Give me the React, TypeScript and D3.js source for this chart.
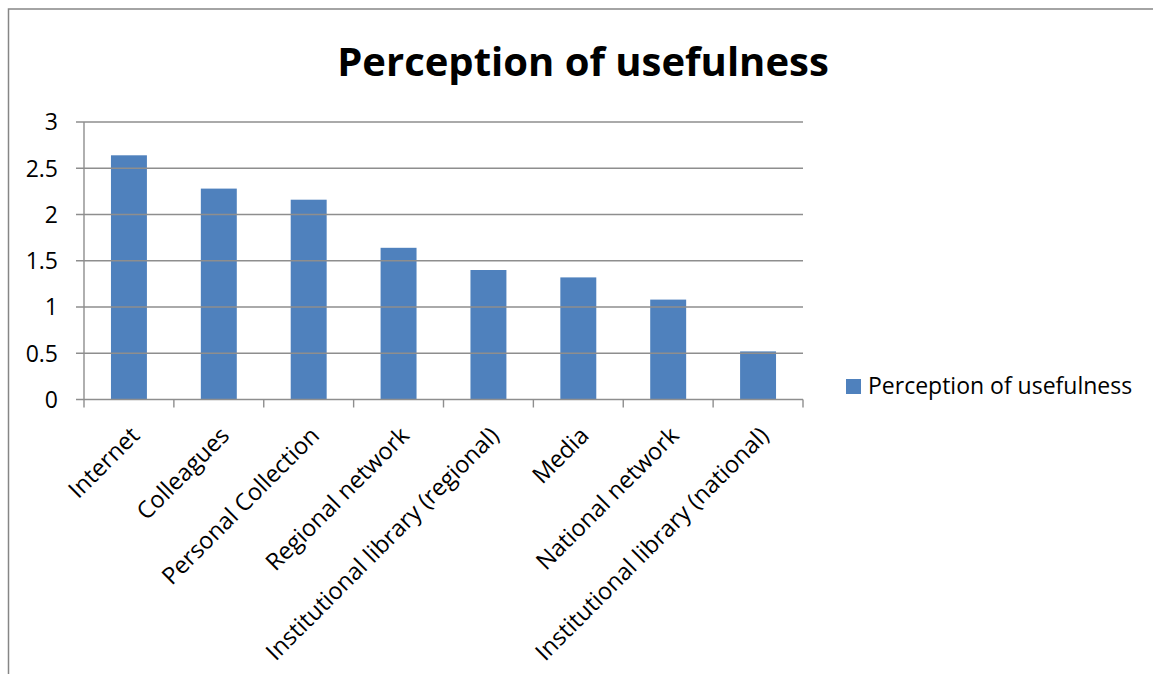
import React, { useEffect, useRef } from "react";
import * as d3 from "d3";

const categories: string[] = [
  "Internet",
  "Colleagues",
  "Personal Collection",
  "Regional network",
  "Institutional library (regional)",
  "Media",
  "National network",
  "Institutional library (national)",
];
const usefulness: number[] = [2.64, 2.28, 2.16, 1.64, 1.4, 1.32, 1.08, 0.52];
const yTicks: number[] = [0, 0.5, 1, 1.5, 2, 2.5, 3];
const seriesName = "Perception of usefulness";
const chartTitle = "Perception of usefulness";

const W = 1153;
const H = 674;
const FONT = "'Open Sans', 'Noto Sans', sans-serif";
const BAR = "#4F81BD";
const GRID = "#8E8E8E";

export default function App() {
  const ref = useRef<SVGSVGElement | null>(null);

  useEffect(() => {
    const svg = d3.select(ref.current);
    svg.selectAll("*").remove();

    const plot = { left: 84, right: 803, top: 122, bottom: 399.5 };

    const x = d3
      .scaleBand<string>()
      .domain(categories)
      .range([plot.left, plot.right])
      .paddingInner(0.6)
      .paddingOuter(0.3);
    const y = d3.scaleLinear().domain([0, 3]).range([plot.bottom, plot.top]);

    // outer chart frame
    svg
      .append("rect")
      .attr("x", 8.5)
      .attr("y", 9)
      .attr("width", W + 20)
      .attr("height", H + 20)
      .attr("fill", "#fff")
      .attr("stroke", "#868686")
      .attr("stroke-width", 1.5);

    // title
    svg
      .append("text")
      .attr("x", 583)
      .attr("y", 76)
      .attr("text-anchor", "middle")
      .attr("font-family", FONT)
      .attr("font-weight", 700)
      .attr("font-size", 40)
      .attr("fill", "#000")
      .text(chartTitle);

    // horizontal gridlines + y ticks
    const g = svg.append("g");
    yTicks.forEach((t) => {
      g.append("line")
        .attr("x1", plot.left - 8)
        .attr("x2", plot.right)
        .attr("y1", y(t))
        .attr("y2", y(t))
        .attr("stroke", GRID)
        .attr("stroke-width", 1.4);
      g.append("text")
        .attr("x", 58)
        .attr("y", y(t))
        .attr("dy", "0.36em")
        .attr("text-anchor", "end")
        .attr("font-family", FONT)
        .attr("font-size", 23)
        .attr("fill", "#000")
        .text(String(t));
    });

    // y axis line
    g.append("line")
      .attr("x1", plot.left)
      .attr("x2", plot.left)
      .attr("y1", plot.top)
      .attr("y2", plot.bottom)
      .attr("stroke", GRID)
      .attr("stroke-width", 1.4);

    // category boundary ticks on the x axis
    const step = x.step();
    d3.range(categories.length + 1).forEach((i) => {
      const tx = plot.left + i * step;
      g.append("line")
        .attr("x1", tx)
        .attr("x2", tx)
        .attr("y1", plot.bottom)
        .attr("y2", plot.bottom + 8)
        .attr("stroke", GRID)
        .attr("stroke-width", 1.4);
    });

    // bars
    svg
      .append("g")
      .selectAll("rect")
      .data(categories)
      .join("rect")
      .attr("x", (d) => x(d)!)
      .attr("width", x.bandwidth())
      .attr("y", (_d, i) => y(usefulness[i]))
      .attr("height", (_d, i) => y(0) - y(usefulness[i]))
      .attr("fill", BAR);

    // keep the axis and gridlines above the bars' bottom edge
    g.raise();

    // rotated category labels
    svg
      .append("g")
      .selectAll("text")
      .data(categories)
      .join("text")
      .attr(
        "transform",
        (d) => `translate(${x(d)! + x.bandwidth() / 2 + 12},437) rotate(-45)`
      )
      .attr("text-anchor", "end")
      .attr("font-family", FONT)
      .attr("font-size", 23.6)
      .attr("fill", "#000")
      .text((d) => d);

    // legend
    const lg = svg.append("g");
    lg.append("rect")
      .attr("x", 846)
      .attr("y", 379)
      .attr("width", 15)
      .attr("height", 15)
      .attr("fill", BAR);
    lg.append("text")
      .attr("x", 868)
      .attr("y", 393.5)
      .attr("font-family", FONT)
      .attr("font-size", 23)
      .attr("fill", "#000")
      .text(seriesName);
  }, []);

  return (
    <svg
      ref={ref}
      width={W}
      height={H}
      style={{ position: "absolute", left: 0, top: 0, display: "block" }}
    />
  );
}
